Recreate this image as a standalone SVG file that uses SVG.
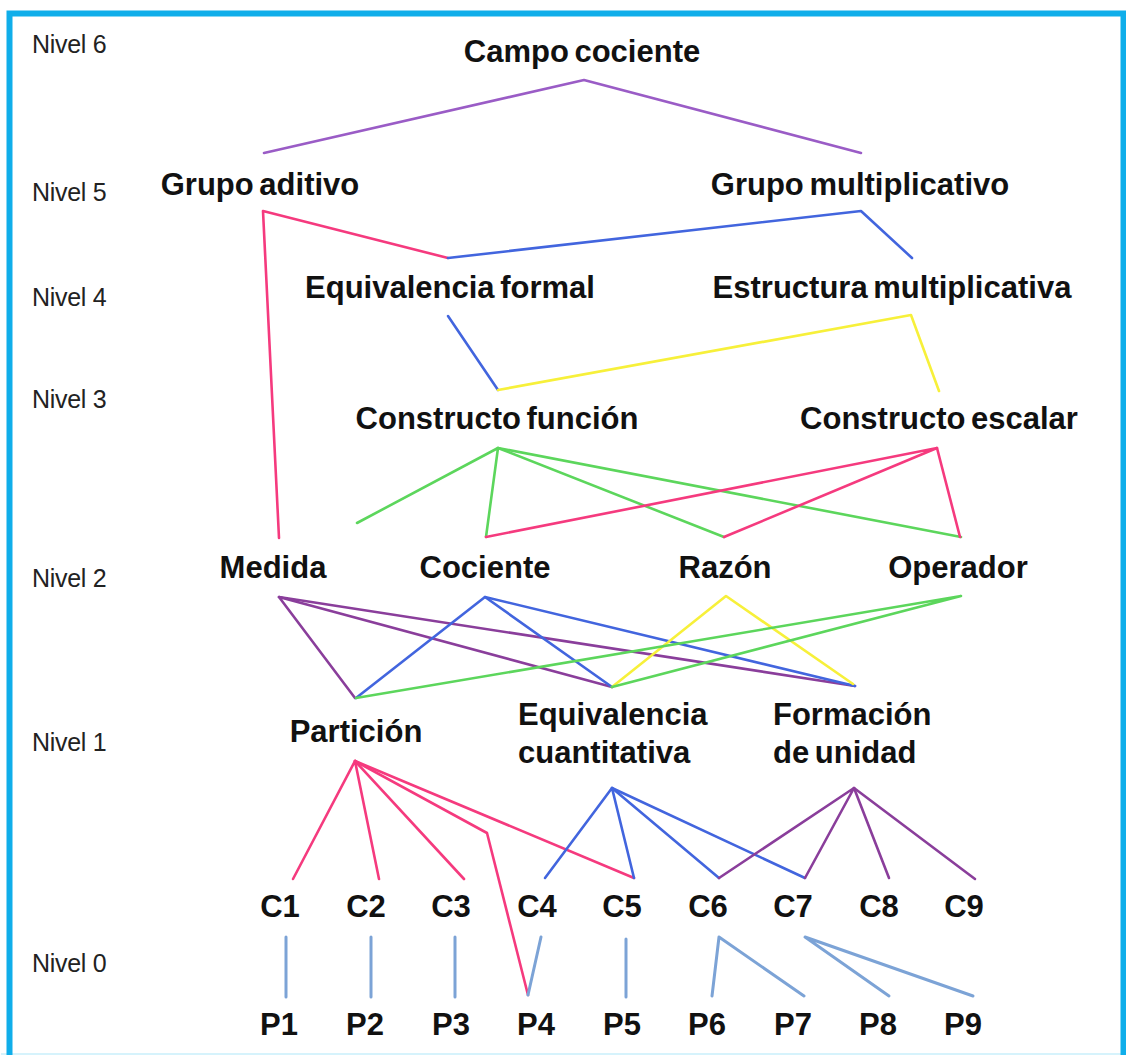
<svg xmlns="http://www.w3.org/2000/svg" width="1126" height="1055" viewBox="0 0 1126 1055">
  <style>
    .lbl { font-family: "Liberation Sans", Arial, sans-serif; font-weight: bold; font-size: 31px; fill: #111; word-spacing: -3px; }
    .mid { text-anchor: middle; }
    .lvl { font-family: "Liberation Sans", Arial, sans-serif; font-size: 25px; fill: #222; letter-spacing: -0.3px; }
    .ln { fill: none; stroke-width: 2.6; stroke-linejoin: round; stroke-linecap: round; }
    .purple { stroke: #9A5CC6; }
    .pink { stroke: #F53A7E; }
    .blue { stroke: #4265DE; }
    .yellow { stroke: #F7F03A; }
    .green { stroke: #5CD65C; }
    .plum { stroke: #8A3E9B; }
    .steel { stroke: #7CA3D6; stroke-width: 3; }
  </style>

  <rect x="0" y="0" width="1126" height="1055" fill="#fff"/>
  <!-- frame -->
  <line x1="1" y1="1054" x2="1125" y2="1054" stroke="#D6F3FC" stroke-width="2"/>
  <rect x="9.5" y="13.5" width="1114" height="1046" fill="none" stroke="#10AEEA" stroke-width="6"/>

  <!-- level captions -->
  <g id="levels">
    <text class="lvl" x="32" y="53">Nivel 6</text>
    <text class="lvl" x="32" y="201">Nivel 5</text>
    <text class="lvl" x="32" y="306">Nivel 4</text>
    <text class="lvl" x="32" y="408">Nivel 3</text>
    <text class="lvl" x="32" y="587">Nivel 2</text>
    <text class="lvl" x="32" y="751">Nivel 1</text>
    <text class="lvl" x="32" y="972">Nivel 0</text>
  </g>

  <!-- connectors -->
  <g id="connectors">
    <polyline class="ln purple" points="264,153 584,80 861,153"/>

    <polyline class="ln pink" points="279,538 263,211 448,258"/>
    <polyline class="ln blue" points="448,258 861,211 912,258"/>

    <polyline class="ln blue" points="448,316 498,390"/>
    <polyline class="ln yellow" points="498,390 911,315 939,391"/>

    <polyline class="ln green" points="357,523 498,448 486,537"/>
    <polyline class="ln green" points="498,448 724,537"/>
    <polyline class="ln green" points="498,448 961,537"/>

    <polyline class="ln pink" points="486,537 937,448 724,537"/>
    <polyline class="ln pink" points="937,448 960,537"/>

    <polyline class="ln plum" points="355,698 279,597 612,687"/>
    <polyline class="ln plum" points="279,597 855,686"/>

    <polyline class="ln blue" points="356,698 485,597 612,687"/>
    <polyline class="ln blue" points="485,597 855,686"/>

    <polyline class="ln yellow" points="612,687 726,596 853,684"/>

    <polyline class="ln green" points="356,698 961,596 612,687"/>

    <polyline class="ln pink" points="293,879 355,761 379,879"/>
    <polyline class="ln pink" points="355,761 464,879"/>
    <polyline class="ln pink" points="355,761 487,833 528,995"/>
    <polyline class="ln pink" points="355,761 634,878"/>

    <polyline class="ln blue" points="545,878 612,788 634,878"/>
    <polyline class="ln blue" points="612,788 719,878"/>
    <polyline class="ln blue" points="612,788 805,878"/>

    <polyline class="ln plum" points="719,878 854,788 805,878"/>
    <polyline class="ln plum" points="854,788 889,878"/>
    <polyline class="ln plum" points="854,788 975,879"/>

    <line class="ln steel" x1="286" y1="937" x2="286" y2="997"/>
    <line class="ln steel" x1="371" y1="937" x2="371" y2="997"/>
    <line class="ln steel" x1="455" y1="937" x2="455" y2="997"/>
    <line class="ln steel" x1="541" y1="937" x2="528" y2="995"/>
    <line class="ln steel" x1="626" y1="939" x2="626" y2="997"/>
    <polyline class="ln steel" points="712,996 719,937 804,996"/>
    <polyline class="ln steel" points="889,996 805,937 973,996"/>
  </g>

  <!-- nodes -->
  <g id="campo-cociente"><text class="lbl mid" x="582" y="62">Campo cociente</text></g>
  <g id="grupo-aditivo"><text class="lbl mid" x="260" y="195">Grupo aditivo</text></g>
  <g id="grupo-multiplicativo"><text class="lbl mid" x="860" y="195">Grupo multiplicativo</text></g>
  <g id="equivalencia-formal"><text class="lbl mid" x="450" y="298">Equivalencia formal</text></g>
  <g id="estructura-multiplicativa"><text class="lbl mid" x="892" y="298">Estructura multiplicativa</text></g>
  <g id="constructo-funcion"><text class="lbl mid" x="497" y="429">Constructo función</text></g>
  <g id="constructo-escalar"><text class="lbl mid" x="939" y="429">Constructo escalar</text></g>
  <g id="medida"><text class="lbl mid" x="273" y="578">Medida</text></g>
  <g id="cociente"><text class="lbl mid" x="485" y="578">Cociente</text></g>
  <g id="razon"><text class="lbl mid" x="725" y="578">Razón</text></g>
  <g id="operador"><text class="lbl mid" x="958" y="578">Operador</text></g>
  <g id="particion"><text class="lbl mid" x="356" y="742">Partición</text></g>
  <g id="equivalencia-cuantitativa">
    <text class="lbl" x="518" y="725">Equivalencia</text>
    <text class="lbl" x="518" y="763">cuantitativa</text>
  </g>
  <g id="formacion-unidad">
    <text class="lbl" x="773" y="725">Formación</text>
    <text class="lbl" x="773" y="763">de unidad</text>
  </g>

  <g id="c1"><text class="lbl mid" x="280" y="917">C1</text></g>
  <g id="c2"><text class="lbl mid" x="366" y="917">C2</text></g>
  <g id="c3"><text class="lbl mid" x="451" y="917">C3</text></g>
  <g id="c4"><text class="lbl mid" x="537" y="917">C4</text></g>
  <g id="c5"><text class="lbl mid" x="622" y="917">C5</text></g>
  <g id="c6"><text class="lbl mid" x="708" y="917">C6</text></g>
  <g id="c7"><text class="lbl mid" x="793" y="917">C7</text></g>
  <g id="c8"><text class="lbl mid" x="879" y="917">C8</text></g>
  <g id="c9"><text class="lbl mid" x="964" y="917">C9</text></g>

  <g id="p1"><text class="lbl mid" x="279" y="1035">P1</text></g>
  <g id="p2"><text class="lbl mid" x="365" y="1035">P2</text></g>
  <g id="p3"><text class="lbl mid" x="451" y="1035">P3</text></g>
  <g id="p4"><text class="lbl mid" x="536" y="1035">P4</text></g>
  <g id="p5"><text class="lbl mid" x="622" y="1035">P5</text></g>
  <g id="p6"><text class="lbl mid" x="707" y="1035">P6</text></g>
  <g id="p7"><text class="lbl mid" x="793" y="1035">P7</text></g>
  <g id="p8"><text class="lbl mid" x="878" y="1035">P8</text></g>
  <g id="p9"><text class="lbl mid" x="963" y="1035">P9</text></g>
</svg>
